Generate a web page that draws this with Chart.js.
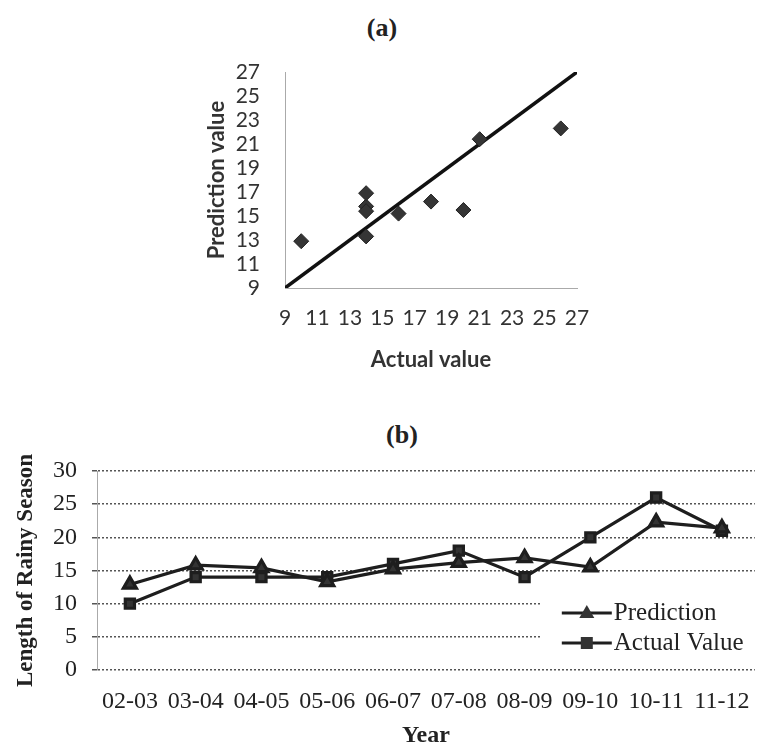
<!DOCTYPE html>
<html>
<head>
<meta charset="utf-8">
<script src="https://cdn.jsdelivr.net/npm/chart.js"></script>
<style>
  html, body { margin: 0; padding: 0; background: #fff; }
  body { width: 767px; height: 751px; position: relative; overflow: hidden; }
  .panel-label { position: absolute; font: bold 26px "Liberation Serif", serif; color: #222; transform: translate(-50%, -50%); }
  canvas { position: absolute; }
</style>
</head>
<body>
<div class="panel-label" style="left:382px; top:28px">(a)</div>
<canvas id="scatter" width="400" height="330" style="left:195px; top:50px"></canvas>
<div class="panel-label" style="left:402px; top:435px">(b)</div>
<canvas id="season" width="767" height="361" style="left:0; top:390px"></canvas>
<script>
// rainy seasons 2002-03 .. 2011-12
const years = ['02-03', '03-04', '04-05', '05-06', '06-07', '07-08', '08-09', '09-10', '10-11', '11-12'];
const actualValues = [10, 14, 14, 14, 16, 18, 14, 20, 26, 21];
const predictedValues = [12.9, 15.8, 15.4, 13.3, 15.2, 16.2, 16.9, 15.5, 22.3, 21.4];

// y = x reference line in panel (a)
const fitEnds = [9, 27];

const scatterMin = 9;
const scatterMax = 27;
const scatterStep = 2;
const seasonMin = 0;
const seasonMax = 30;
const seasonStep = 5;

const ink = '#1e1e1e';
const calibri = 'Lato, "Open Sans", sans-serif';
const times = '"Liberation Serif", "DejaVu Serif", serif';

// panel (a): actual vs predicted
// (gaps to the labels come from tickLength: tick padding would also pad the chart area)
new Chart(document.getElementById('scatter'), {
    type: 'scatter',
    data: {
        datasets: [{
            label: 'Points',
            data: actualValues.map((v, i) => ({x: v, y: predictedValues[i]})),
            pointStyle: 'rectRot',
            pointRadius: 7.5,
            backgroundColor: '#353535',
            borderColor: '#222',
            borderWidth: 1
        }, {
            label: 'Fit',
            data: fitEnds.map(v => ({x: v, y: v})),
            showLine: true,
            borderColor: '#111',
            borderWidth: 3.5,
            pointRadius: 0
        }]
    },
    options: {
        responsive: false,
        animation: false,
        layout: {padding: {top: 22, right: 18}},
        plugins: {legend: {display: false}, tooltip: {enabled: false}},
        scales: {
            x: {
                type: 'linear',
                min: scatterMin,
                max: scatterMax,
                ticks: {stepSize: scatterStep, padding: 0, autoSkip: false, maxRotation: 0,
                        color: '#333', font: {family: calibri, size: 21}},
                grid: {display: false, drawTicks: true, tickLength: 18},
                border: {display: true, color: '#aaa', width: 1, dash: [2, 2]},
                title: {display: true, text: 'Actual value', color: '#333', padding: 7,
                        font: {family: calibri, size: 22, weight: 'bold'}},
                afterFit: s => { s.height = 92; }
            },
            y: {
                type: 'linear',
                min: scatterMin,
                max: scatterMax,
                ticks: {stepSize: scatterStep, padding: 0, autoSkip: false,
                        color: '#333', font: {family: calibri, size: 21}},
                grid: {display: false, drawTicks: true, tickLength: 25},
                border: {display: true, color: '#aaa', width: 1, dash: [2, 2]},
                title: {display: true, text: 'Prediction value', color: '#333', padding: 9,
                        font: {family: calibri, size: 22, weight: 'bold'}},
                afterFit: s => { s.width = 90; }
            }
        }
    }
});

// legend sits inside the plot, over the lower gridlines
const seasonLegend = {
    id: 'seasonLegend',
    afterDraw(chart) {
        const {ctx, chartArea} = chart;
        const left = chartArea.right - 214;
        ctx.save();
        ctx.fillStyle = '#fff';
        ctx.fillRect(left, chartArea.bottom - 82, 214 + 2, 72);
        chart.data.datasets.forEach((ds, i) => {
            const y = chartArea.bottom - 57 + i * 30;
            ctx.strokeStyle = ink;
            ctx.lineWidth = 3;
            ctx.beginPath();
            ctx.moveTo(left + 21, y);
            ctx.lineTo(left + 71, y);
            ctx.stroke();
            ctx.fillStyle = '#333';
            ctx.beginPath();
            const cx = left + 46;
            if (ds.pointStyle === 'triangle') {
                ctx.moveTo(cx, y - 8);
                ctx.lineTo(cx + 7.5, y + 5);
                ctx.lineTo(cx - 7.5, y + 5);
                ctx.closePath();
            } else {
                ctx.rect(cx - 6, y - 6, 12, 12);
            }
            ctx.fill();
            ctx.fillStyle = '#222';
            ctx.font = '25px ' + times;
            ctx.textBaseline = 'middle';
            ctx.fillText(ds.label, left + 73, y);
        });
        ctx.restore();
    }
};

// panel (b): length of rainy season by year
new Chart(document.getElementById('season'), {
    type: 'line',
    data: {
        labels: years,
        datasets: [{
            label: 'Prediction',
            data: predictedValues,
            borderColor: ink,
            borderWidth: 3.2,
            pointStyle: 'triangle',
            pointRadius: 7.5,
            pointBackgroundColor: '#333',
            pointBorderColor: ink,
            tension: 0
        }, {
            label: 'Actual Value',
            data: actualValues,
            borderColor: ink,
            borderWidth: 3.2,
            pointStyle: 'rect',
            pointRadius: 6.5,
            pointBackgroundColor: '#333',
            pointBorderColor: ink,
            tension: 0
        }]
    },
    options: {
        responsive: false,
        animation: false,
        layout: {padding: {top: 81, right: 1}},
        plugins: {legend: {display: false}, tooltip: {enabled: false}},
        scales: {
            x: {
                offset: true,
                grid: {display: false, drawTicks: false},
                border: {display: false},
                ticks: {padding: 17, color: '#222', autoSkip: false, maxRotation: 0,
                        font: {family: times, size: 24}},
                title: {display: true, text: 'Year', color: '#222', padding: 1,
                        font: {family: times, size: 24, weight: 'bold'}},
                afterFit: s => { s.height = 81; }
            },
            y: {
                min: seasonMin,
                max: seasonMax,
                ticks: {stepSize: seasonStep, padding: 15, color: '#222', font: {family: times, size: 24}},
                grid: {color: '#555', lineWidth: 1.5, drawTicks: true, tickLength: 5},
                border: {display: true, color: '#aaa', width: 1, dash: [2, 2]},
                title: {display: true, text: 'Length of Rainy Season', color: '#222', padding: 12,
                        font: {family: times, size: 23, weight: 'bold'}},
                afterFit: s => { s.width = 97; }
            }
        }
    },
    plugins: [seasonLegend]
});
</script>
</body>
</html>
